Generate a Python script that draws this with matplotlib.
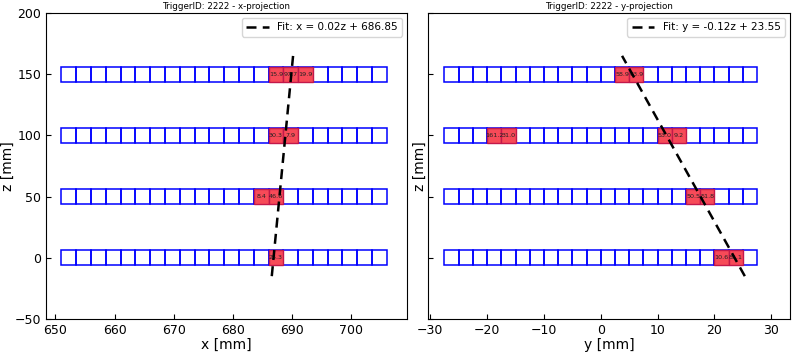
import matplotlib.pyplot as plt
import numpy as np
from matplotlib.patches import Rectangle

plt.rcParams.update(
    {
        "font.family": "DejaVu Sans",
        "xtick.direction": "in",
        "ytick.direction": "in",
        "xtick.labelsize": 9,
        "ytick.labelsize": 9,
    }
)

trigger_id = 2222
layer_z = [0, 50, 100, 150]
n_strips = 22
strip_pitch = 2.5
strip_height = 12.0
x_start = 651.0
y_start = -27.5

# hits per projection: (layer z, strip index, charge)
x_hit_z = [150, 150, 150, 100, 100, 50, 50, 0]
x_hit_strip = [14, 15, 16, 14, 15, 13, 14, 14]
x_hit_val = [15.9, 97.7, 19.9, 30.3, 7.9, 8.4, 46.6, 25.3]

y_hit_z = [150, 150, 100, 100, 100, 100, 50, 50, 0, 0]
y_hit_strip = [12, 13, 3, 4, 15, 16, 17, 18, 19, 20]
y_hit_val = [58.9, 63.9, 161.2, 31.0, 53.0, 9.2, 50.5, 51.8, 10.6, 85.1]

# fit results: coord = slope * z + intercept
x_fit = (0.02, 686.85)
y_fit = (-0.12, 23.55)
fit_z = [-15, 165]


def draw_projection(ax, start, hit_z, hit_strip, hit_val, fit, name):
    for z in layer_z:
        for k in range(n_strips):
            ax.add_patch(Rectangle((start + k * strip_pitch, z - strip_height / 2),
                                   strip_pitch, strip_height,
                                   facecolor="none", edgecolor="blue", lw=1.1))
    for z, k, v in zip(hit_z, hit_strip, hit_val):
        x0 = start + k * strip_pitch
        ax.add_patch(Rectangle((x0, z - strip_height / 2), strip_pitch, strip_height,
                               facecolor="#f74a58", edgecolor="#c2184a", lw=1.0,
                               zorder=3))
        ax.text(x0 + strip_pitch / 2, z, f"{v:.1f}", ha="center", va="center",
                fontsize=4.6, color="#222222", zorder=4)
    zz = np.array(fit_z)
    ax.plot(fit[0] * zz + fit[1], zz, color="black", ls=(0, (4, 2.5)), lw=1.8, zorder=5,
            label=f"Fit: {name} = {fit[0]:.2f}z + {fit[1]:.2f}")
    ax.set_title(f"TriggerID: {trigger_id} - {name}-projection", fontsize=6.3, pad=3)
    ax.set_xlabel(f"{name} [mm]", fontsize=10, labelpad=1)
    ax.legend(loc="upper right", fontsize=7.5, handlelength=2.2)


fig = plt.figure(figsize=(7.97, 3.54), dpi=100)
ax1 = fig.add_axes([46 / 797, 1 - 319 / 354, 361 / 797, 306 / 354])
ax2 = fig.add_axes([428 / 797, 1 - 319 / 354, 362 / 797, 306 / 354])

draw_projection(ax1, x_start, x_hit_z, x_hit_strip, x_hit_val, x_fit, "x")
draw_projection(ax2, y_start, y_hit_z, y_hit_strip, y_hit_val, y_fit, "y")

ax1.set_xlim(648.4, 709.4)
ax2.set_xlim(-30.4, 33.3)
for ax in (ax1, ax2):
    ax.set_ylim(-50, 200)
    ax.set_yticks([-50, 0, 50, 100, 150, 200])
ax1.set_ylabel("z [mm]", fontsize=10, labelpad=0)
ax2.set_ylabel("z [mm]", fontsize=10, labelpad=1)
ax2.tick_params(axis="y", labelleft=False)
ax2.set_xticks([-30, -20, -10, 0, 10, 20, 30])

fig.savefig("out.png", dpi=100)
